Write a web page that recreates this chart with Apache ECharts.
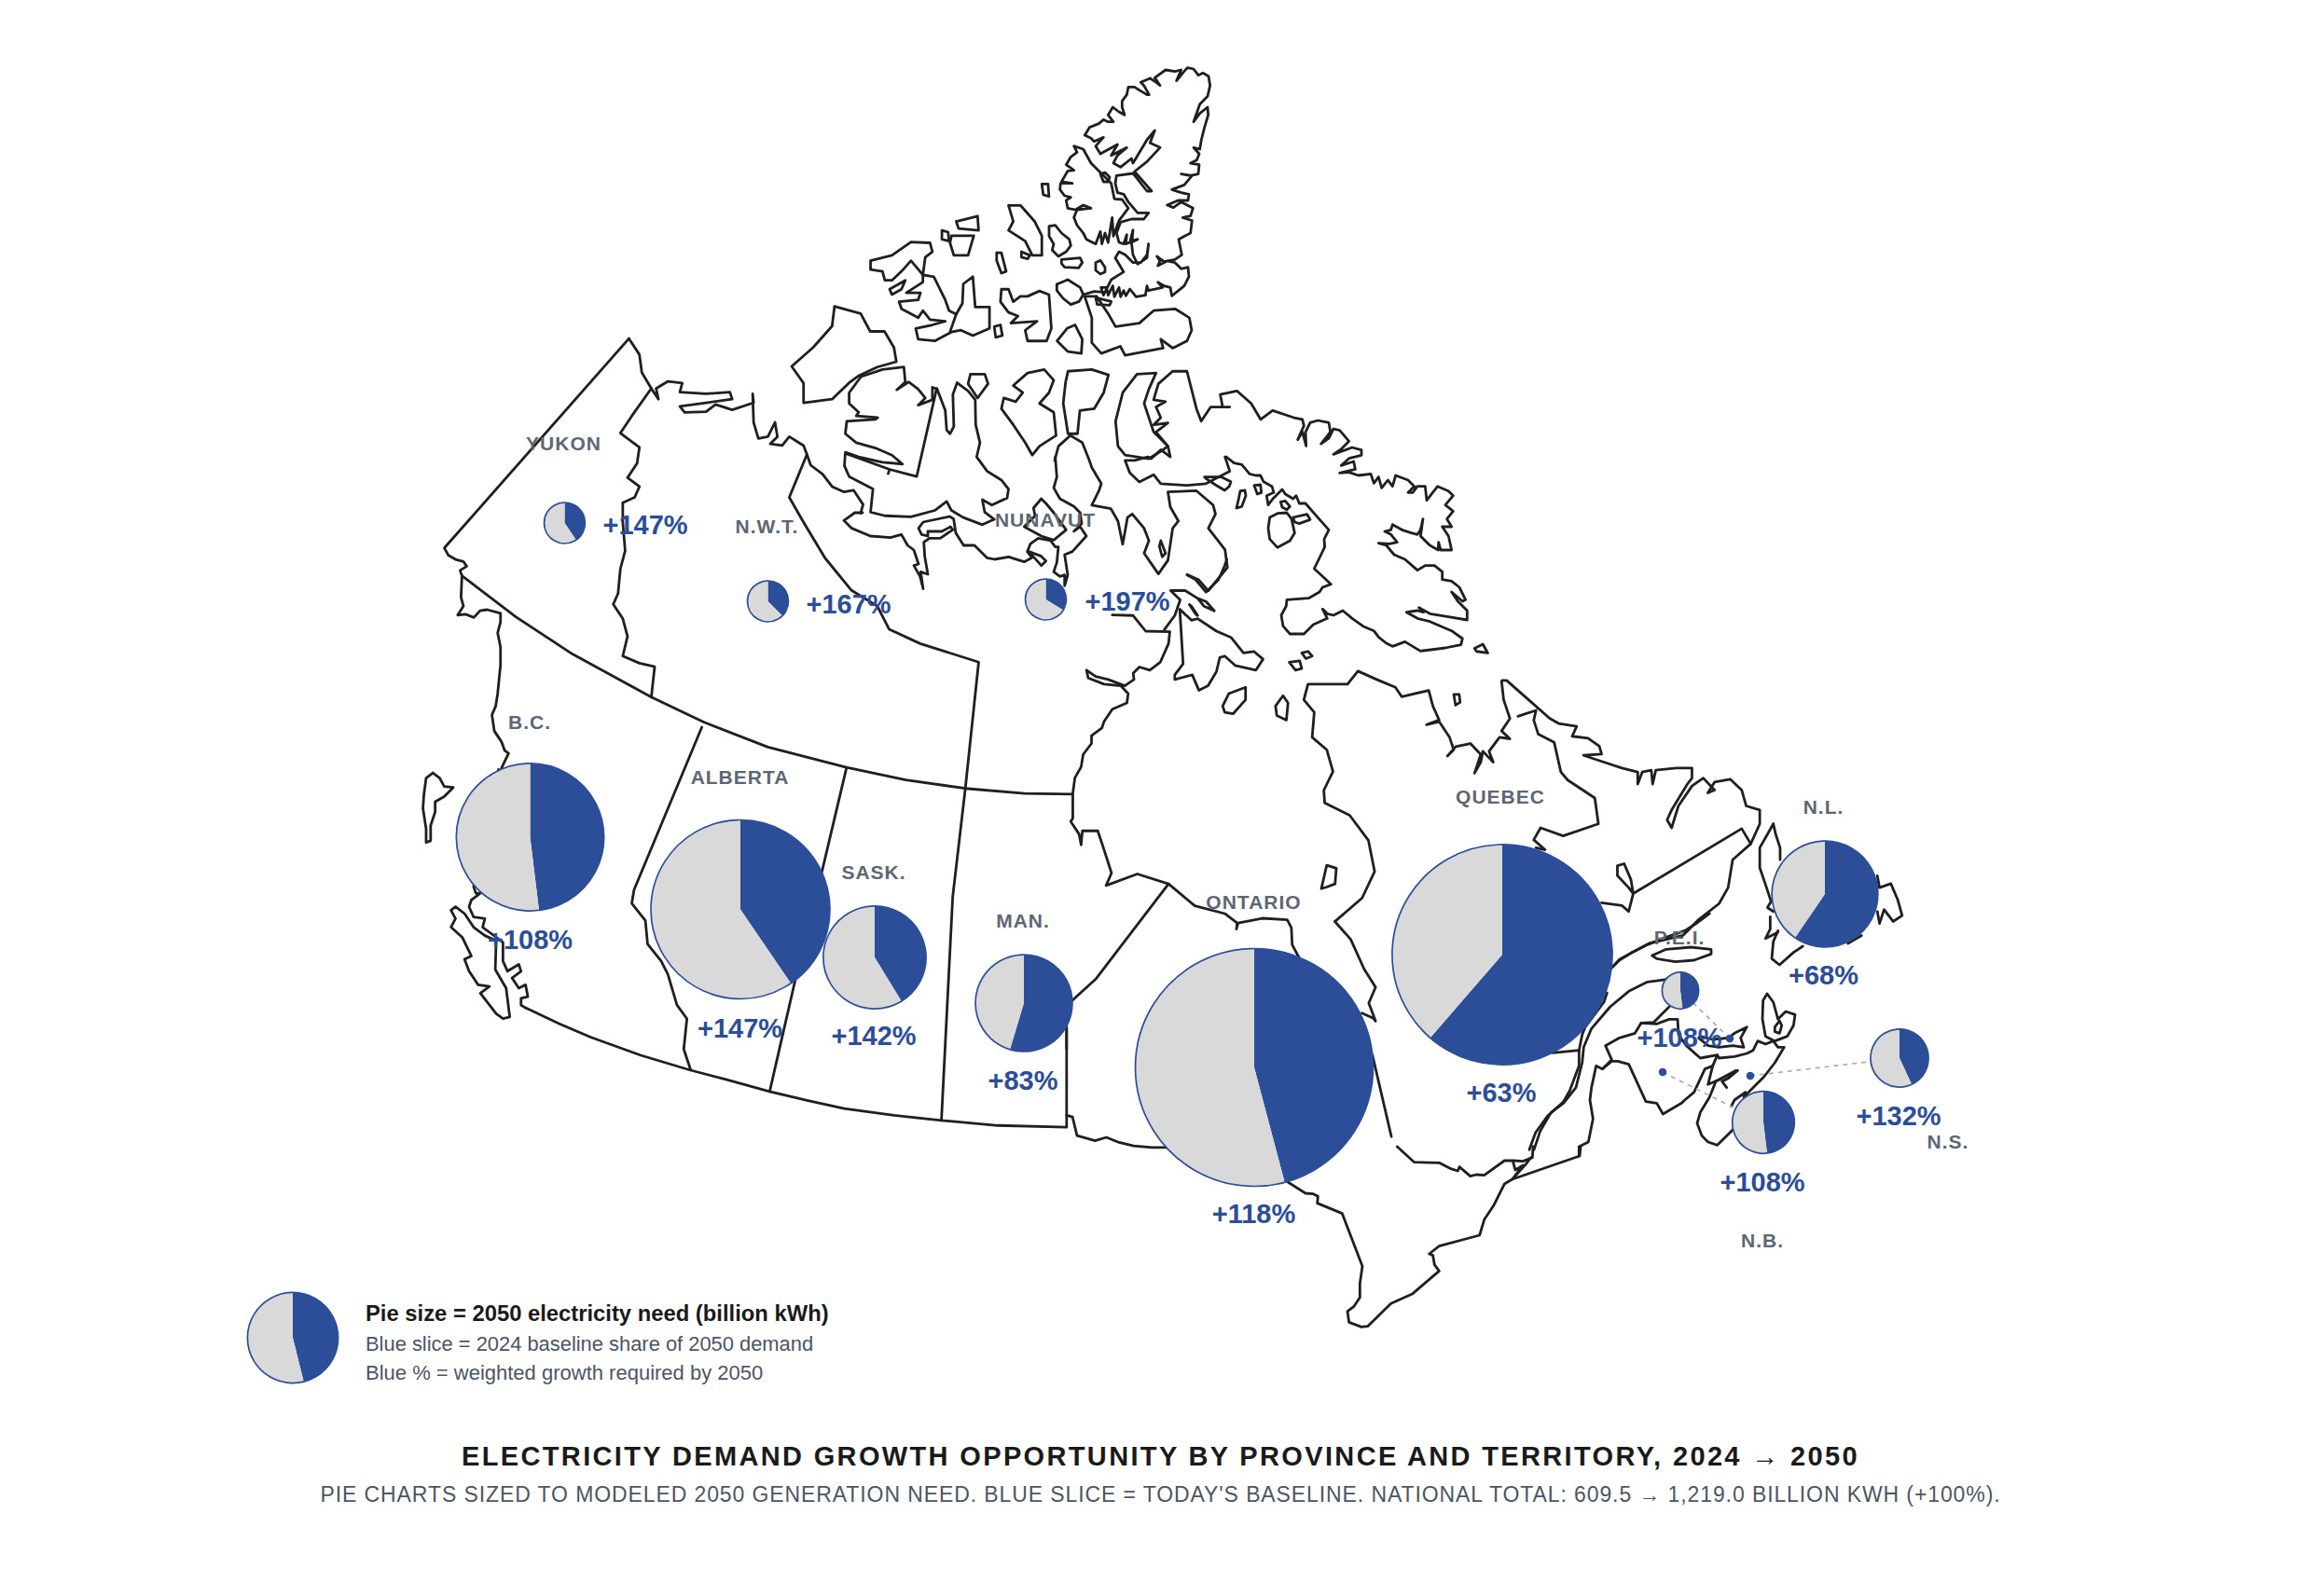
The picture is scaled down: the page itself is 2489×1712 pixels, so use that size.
<!DOCTYPE html>
<html><head><meta charset="utf-8">
<style>html,body{margin:0;background:#fff}#c{width:2489px;height:1712px}</style>
<script src="https://cdn.jsdelivr.net/npm/echarts@6/dist/echarts.min.js"></script>
</head><body><div id="c"></div>
<script>
// ---------- data ----------
const provinces   = ['YUKON','N.W.T.','NUNAVUT','B.C.','ALBERTA','SASK.','MAN.','ONTARIO','QUEBEC','N.L.','P.E.I.','N.B.','N.S.'];
const need2050    = [10,10,10,130,191,63,56,337,289,67,8,23,20];
const base2024    = [4.05,3.75,3.37,62.5,77.3,26,30.6,154.6,177.3,39.9,3.85,11.06,8.62];
const growthLabel = ['+147%','+167%','+197%','+108%','+147%','+142%','+83%','+118%','+63%','+68%','+108%','+108%','+132%'];
const pieCenter   = [[605.5,561],[823.5,645],[1121.5,643],[568.5,898],[794,975.5],[938,1027],[1098,1076],[1345,1145],[1611,1024],[1957,959],[1802,1062.5],[1891,1204],[2037,1135]];
const nameAt      = [[604.5,475],[822.5,564],[1121,557.5],[568,774.5],[793.5,833.5],[937,935],[1097,987],[1344.5,967],[1609,854.5],[1955.5,865.5],[1801,1005.5],[1890,1330],[2089,1224.5]];
const growthAt    = [[692,562.5],[910,647.5],[1209,644.5],[568.5,1008],[793.5,1103],[937,1111],[1097,1159],[1344.5,1301.5],[1610,1172],[1955.5,1046],[1801,1113],[1890,1268],[2036,1196.5]];
const leaderDots  = {'P.E.I.':[1855,1114],'N.B.':[1783,1150],'N.S.':[1877,1154]};
const legendNeed = 49, legendBase = 22.6, legendCenter = [314,1435];
const legendLines = ['Pie size = 2050 electricity need (billion kWh)','Blue slice = 2024 baseline share of 2050 demand','Blue % = weighted growth required by 2050'];
const titleText = 'ELECTRICITY DEMAND GROWTH OPPORTUNITY BY PROVINCE AND TERRITORY, 2024 \u2192 2050';
const subText = "PIE CHARTS SIZED TO MODELED 2050 GENERATION NEED. BLUE SLICE = TODAY'S BASELINE. NATIONAL TOTAL: 609.5 \u2192 1,219.0 BILLION KWH (+100%).";

// basemap tracing: each zone is a traced tile [left, top, scaleX, scaleY]
const zones = {a:[400,300,1.96,2.613],b:[880,50,1.96,2.613],c:[1050,600,2.24,2.987],d:[1400,700,2.063,2.34],e:[440,780,2.063,2.75],f:[1400,1230,3,3],g:[1640,980,3,3],h:[900,490,3,3],i:[1120,60,3,3],j:[1290,450,3,3]};
const openLines = [
['a',[538,165,150,752,158,772,175,785,190,790,197,803,183,815,187,830,185,890,190,915,178,940,195,938,212,947,225,928,240,925,268,935,268,960,262,990,268,1030,268,1080,262,1160,258,1195,250,1220,255,1265,270,1295,277,1320,285,1328,275,1355,265,1385]],
['e',[195,125,140,470,145,490,155,490,135,510,130,530,140,560,165,565,160,590,175,605,205,635,205,690,215,720,240,700,245,720,225,740,240,770,255,760,260,795,245,800,245,820,255,828]],
['e',[255,828,330,875,400,915,510,968,620,1012,700,1040,795,1075,880,1102,960,1125,1070,1145,1175,1160,1300,1175,1452,1180,1452,890]],
['c',[210,1568,210,1430,280,1345,455,1040]],
['a',[187,830,300,945,420,1050,585,1170,695,1240,830,1310,995,1367,1120,1402,1245,1426,1370,1440,1470,1442]],
['a',[585,305,545,380,520,430,560,470,555,515,535,555,560,580,550,610,525,625,525,680,530,760,520,810,515,880,505,910,525,950,535,1000,525,1055,560,1075,592,1085,585,1170]],
['a',[912,490,875,610,905,680,950,780,1005,870,1060,915,1085,980,1150,1020,1273,1072,1245,1426]],
['e',[1228,180,1200,500,1175,1160]],
['e',[965,120,910,430,850,755,795,1075]],
['e',[645,0,495,480,490,520,520,570,525,640,555,690,570,730,590,820,612,860,605,950,620,1010]],
['e',[1452,1145,1465,1150,1475,1205,1515,1220,1540,1210,1568,1225,1600,1235,1640,1240,1691,1240]],
['a',[538,165,560,210,565,260,585,305,600,335,595,305,620,285,650,290,645,315,700,320,750,315,755,335,700,345,645,355,655,372,700,370,720,350,755,365,800,345,798,320,800,400,810,445,830,440,845,400,850,440,835,460,860,465,875,440,905,465,912,490,920,520,945,545,965,580,990,595,1010,590,1030,630,1025,655]],
['h',[75,180,50,180,15,205,40,230,100,255,165,260,200,250,220,285,240,300,255,345,240,350,260,385,270,425,262,370,285,378,275,320,272,275,290,262,325,262,365,235,358,225,330,240,285,240,285,255,265,250,255,230,270,210,355,192,368,200,375,245,400,285,435,285,475,325,500,330,545,322,595,338,620,325,605,305,615,280,640,262,680,270,695,290,705,290,700,340,690,370,710,385,725,380,725,415,735,380,725,315,750,305,795,255,775,225,755,240,780,215,775,180,755,160,710,135,690,100,700,65,695,0]],
['b',[492,1160,500,1120,525,1090,550,1110,565,1160,570,1180,590,1225,585,1245,570,1285,610,1295,625,1330,635,1395,645,1320,655,1310,680,1350,690,1385,680,1420,710,1478,730,1440,740,1350,752,1330,735,1290,730,1248,790,1245,825,1285,830,1310,815,1350,850,1410,855,1460,815,1525,795,1495,770,1480]],
['c',[320,178,370,180,400,230,458,232,455,270,435,330,410,355,385,345,370,365,372,385,350,405,310,385,280,375,258,355,262,380,300,400,340,405,358,430,355,460,320,480,300,520,295,540,270,565,270,590,250,625,245,665,230,700,225,750,225,830,220,840,240,880,245,915,248,870,285,870,300,930,318,1005,305,1045,380,1008,455,1040,518,1110,590,1135,620,1165,618,1185,622,1165,680,1150,740,1155,750,1180,752,1235,770,1280]],
['c',[445,225,470,180,483,130,460,100,495,100,525,125,540,150,565,165,545,135,525,125]],
['c',[855,1160,920,1085,950,1000,935,900,890,820,830,780,828,740,850,680,835,610,800,570,805,490,780,450,790,400,855,400,885,400,910,358,955,385,1000,410,1015,440,1080,420,1090,470,1105,515,1075,530,1105,520,1130,570,1140,610,1125,630,1145,600,1180,590,1205,625,1190,685,1205,650,1210,615,1235,650,1225,615,1250,570,1275,575,1255,550,1275,510,1260,450,1255,390]],
['d',[125,905,150,918,155,925,140,880,155,840,130,795,100,720,65,675]],
['d',[435,70,445,70,470,95,500,125,540,165,560,178,600,185,590,210,625,215,650,235,655,255,615,258,660,275,700,290,735,300,735,330,745,300,765,295,768,330,775,295,820,290,855,290,855,315,845,330,810,395,800,420,810,440,825,385,855,335,880,315,905,345,890,352,905,325,940,318,965,345,975,385,1005,395,1005,430,985,480,945,520,935,590,915,630,870,670,835,710,760,730,695,770,678,790]],
['d',[470,160,510,145,505,170,515,205,550,225,565,300,580,320,640,365,648,430,570,460,520,440,505,470,530,495,510,490]],
['d',[985,480,965,442,725,605,715,590,690,560,690,535,705,530,720,570,725,605,715,650,700,635,655,628]],
['d',[148,1010,190,1215]],
['f',[-66,108,0,150,25,152,40,160,38,182,118,215,183,385,175,440,175,485,155,515,135,530,140,565,180,580,200,578,275,505,345,473,430,400,415,380,410,350,398,345,430,320,560,285,575,235,605,190,640,120,665,105,882,30,885,0]],
['f',[295,0,350,50,430,52,465,70,490,78,495,65,530,95,550,90,575,92,640,45,670,45,700,47,730,35,732,0]],
['f',[668,50,675,75,700,60,665,105,710,55,725,35]],
['g',[265,175,290,150,330,125,380,100,430,80,500,55,540,30,580,0]],
['g',[75,448,160,440,160,490,130,570,110,605,60,650,20,705,0,760]],
['g',[250,255,240,285,180,365,170,390,160,440]],
['g',[440,212,380,220,320,250,260,300,200,370,175,430,170,480,150,560,110,610,70,640,35,700,15,760]],
['g',[160,780,160,750,190,735,205,660,195,600,200,560,215,490,235,500,265,475,285,475,320,485,375,605,410,610,430,645,490,610,500,600,530,575,565,500,590,490,575,550,610,535,670,505,640,530,620,540,635,560]],
['g',[235,500,265,470,245,425,290,400,340,385,360,352,410,355,450,340,477,340,480,390,505,425,550,465,605,455,590,490]],
['g',[360,352,400,350,450,300]],
['g',[605,455,610,465,660,460,700,450,720,440,735,410,760,420,785,410,800,430,820,430,790,480,755,525,690,590,695,575,660,600,650,620]],
['g',[665,505,600,540,580,590,550,640,540,675,555,715,575,735,605,745,640,710,660,690]],
['g',[800,55,785,90,780,145,805,165,850,125,880,105]],
['g',[775,10,775,50,760,80,800,60]],
['d',[1035,430,1040,455,1050,490,1050,520]],
['d',[1035,430,1005,490,1005,540,1020,590,1030,625,1022,640,1035,650]],
['d',[1265,560,1270,590,1295,580,1310,620,1320,660,1300,675,1280,645,1270,680,1265,650]],
['d',[1200,730,1230,710]],
['b',[244,958,202,1205,145,1185,142,1197,145,1185,54,1141]],
['b',[1012,1045,995,1040,950,1020,925,1045,905,1000,875,965,840,975,845,1010,860,1010,820,1010,800,1050,790,1015,770,910,740,910,710,945,700,990,725,995,705,1010,715,1040,700,1060,730,1055,705,1080,730,1120,735,1150,715,1130,695,1155,688,1150,660,1160,640,1160,650,1195,670,1220,700,1200,715,1225,770,1230,810,1225,860,1190,850,1150]],
['j',[75,120,100,140,125,145,150,175,170,180,185,180,195,200,222,215,228,235,205,245,210,275,225,255,240,240,255,225,265,240,290,255,300,245,310,270,330,270,365,310,405,355,390,385,392,410,380,435,358,480,380,500,412,530,385,540,375,555,340,575,270,580,268,600,252,630,258,665,280,690,325,690,355,660,400,640,385,610,400,625,420,630,450,615,480,640,515,665,550,680,565,700,590,720,610,730,650,715,700,745,780,735,830,725,835,705,800,680,730,650,690,640,655,620,690,615,710,620,695,605,730,625,790,635,850,645,850,615,820,585,800,555,835,585,845,580,825,540,800,520,770,515,770,490,745,470,715,470,690,485,650,450,615,435,590,405,565,398,600,400,625,395,605,370,585,360,605,355,610,338,640,355,670,365,690,370,700,355,708,320,700,375,730,405,757,420,758,395,765,420,800,420,790,375,770,345,800,345,785,320,805,295,780,275,805,245,790,230,755,215,720,260,715,215,690,215,675,235,660,235,680,215,660,195,620,180,610,215,595,195,575,220,565,185,550,205,540,175,500,180,470,170,440,172,490,160,485,135,445,148,470,125,510,115,510,98,480,90,420,112,445,95,470,70,440,35,420,30,405,60,380,78,410,40,405,10,370,3,345,10,330,40,332,85,320,40,305,65,325,20,320,0]],
['c',[500,50,520,65,545,105,575,65,590,20,595,0]],
['b',[272,800,285,750]],
['i',[125,768,160,758,190,760]]
];
const closedRings = [
['a',[970,75,1025,95,1045,145,1075,145,1095,190,1100,230,1060,245,1020,270,1000,290,965,335,905,345,905,290,880,243,925,190,965,130]],
['b',[175,898,178,940,160,962,185,940,205,960,220,985,205,1005,235,990,235,955,245,960,262,1020,265,1075,272,1085,280,1065,278,975,287,942,310,965,325,990,326,1060,335,1110,328,1150,350,1190,380,1215,395,1240,392,1265,360,1285,340,1270,345,1305,365,1325,340,1340,300,1320,275,1300,265,1275,240,1300,190,1318,135,1315,105,1305,110,1240,60,1205,50,1175,52,1137,80,1150,130,1165,172,1170,150,1145,115,1125,75,1110,52,1085,55,1050,115,1045,120,1040,75,1035,80,1025,60,1000,60,970,85,925,130,905]],
['b',[315,918,345,918,352,945,330,985,310,945]],
['b',[435,915,470,905,490,935,480,970,460,1000,490,1025,495,1090,460,1120,445,1145,430,1110,405,1060,380,1015,385,985,410,995,425,970,405,950]],
['b',[520,910,570,905,605,920,595,970,575,1015,545,1020,540,1085,520,1085,510,1000,515,940]],
['b',[665,918,705,915,690,960,680,1000,700,1080,730,1120,720,1130,690,1155,640,1145,625,1120,620,1050,635,970]],
['b',[580,700,605,750,620,785,670,775,700,740,745,735,775,760,780,795,770,825,740,845,715,820,720,845,640,865,630,840,590,860,570,830,570,760,555,700]],
['i',[130,255,145,230,175,218,190,205,205,212,222,212,205,190,220,165,240,180,258,190,250,165,250,145,265,125,270,100,290,100,305,110,330,125,337,125,320,95,310,85,340,72,360,85,372,95,355,70,390,45,420,50,440,45,425,80,445,55,460,38,480,42,495,62,510,55,528,65,533,95,525,130,500,155,480,212,500,185,525,165,527,190,515,230,505,270,500,300,480,295,498,315,490,335,470,345,498,350,495,380,470,385,440,380,475,385,450,415,410,430,440,440,465,445,462,465,430,465,395,480,415,488,440,470,478,490,470,515,445,520,475,530,470,570,432,590,442,640,420,655,385,662,362,645,372,660,365,675,395,660,420,665,440,685,462,680,465,710,450,740,410,772,405,745,385,740,365,728,380,745,335,755,330,740,325,770,295,775,275,750,262,772,255,755,245,775,240,745,225,775,220,740,205,770,200,745,182,745,190,770,215,720,255,695,240,670,228,650,240,630,260,640,285,665,310,665,330,640,335,605,330,650,300,670,285,640,280,600,300,590,282,595,285,560,275,600,262,605,265,575,255,605,240,600,232,570,245,535,280,525,320,525,335,505,300,505,270,470,255,445,235,440,228,410,232,385,285,378,330,435,345,435,290,372,330,340,372,295,340,280,355,240,330,270,285,345,280,330,245,358,222,345,235,320,265,295,215,320,235,285,180,315,165,290,190,262,160,275,150,265]],
['i',[95,290,125,300,150,345,180,375,205,400,215,410,225,460,250,462,270,490,240,530,222,580,218,520,210,570,205,600,195,570,185,605,180,565,165,605,135,590,125,570,105,545,95,520,105,495,150,490,125,480,100,495,75,490,70,465,85,455,65,450,50,430,52,410,90,410,55,405,75,370,95,368,70,350,85,325,105,310]],
['i',[180,380,195,375,210,390,205,405,190,405]],
['i',[15,548,35,545,55,570,80,590,85,610,70,630,45,645,25,625,30,605,15,580]],
['i',[55,655,115,650,122,665,110,682,65,680,55,668]],
['i',[165,665,180,658,195,680,195,695,180,702,165,690]],
['i',[40,735,75,720,115,745,125,768,112,790,85,800,60,780,40,755]],
['i',[165,778,215,790,210,802,170,800]],
['b',[465,385,478,385,480,420,468,415]],
['b',[395,445,420,445,450,490,465,530,465,585,445,585,430,545,395,515,405,490]],
['b',[422,575,440,585,435,595,422,590]],
['b',[370,578,380,578,390,630,380,635,370,600]],
['b',[255,515,268,520,270,545,255,540]],
['b',[285,490,330,475,332,515,290,510]],
['b',[275,530,322,530,310,585,280,585,272,550]],
['b',[105,600,150,585,190,548,230,550,235,575,220,590,215,640,190,600,170,630,150,655,135,655,130,630,105,625]],
['b',[145,680,178,655,170,680,150,695]],
['b',[215,640,238,645,262,710,270,740,285,750,298,720,300,665,320,645,325,730,355,730,355,790,320,810,295,795,275,800,240,825,205,820,200,790,235,780,262,770,230,765,215,740,205,760,170,735,165,715,205,710,210,690,180,690,215,660]],
['b',[380,680,395,680,405,715,420,700,435,700,460,685,480,695,485,790,475,825,435,825,430,795,455,770,400,775,415,755,395,745,378,715]],
['b',[365,785,378,780,382,810,368,815]],
['b',[518,790,535,780,550,820,548,860,520,855,497,825]],
['b',[715,1385,725,1420,718,1430,712,1400]],
['j',[5,185,60,185,90,200,85,215,70,228,40,210,10,190]],
['j',[120,230,135,228,138,245,125,280,108,285,115,255]],
['j',[165,212,185,210,188,235,175,240]],
['j',[215,315,240,302,270,300,285,320,295,365,280,390,240,412,215,385,210,350]],
['j',[290,315,335,305,345,322,310,335,295,330]],
['j',[250,265,265,262,280,280,270,290,255,282]],
['e',[50,135,65,150,75,175,95,178,75,205,55,220,55,250,45,290,45,335,35,340,35,300,28,240,30,200,35,150]],
['e',[90,540,100,530,120,550,140,590,165,615,190,630,188,715,212,770,220,855,205,860,190,845,155,785,175,765,150,760,130,720,120,685,135,675,115,620,90,590,100,565]],
['h',[650,135,665,150,690,180,730,235,690,268,650,255,595,225,630,190,625,165]],
['h',[610,305,650,320,665,335,650,350]],
['c',[482,160,510,195,525,190,570,230,605,250,635,300,660,295,682,320,665,355,615,340,590,310,578,315,570,360,550,405,528,420,512,370,470,385,470,370,490,335]],
['c',[505,145,520,175,525,180,510,150]],
['c',[600,430,640,410,640,450,610,495,590,490,585,470]],
['c',[712,470,730,437,742,460,738,515,715,500]],
['c',[745,330,770,325,775,350,760,355]],
['c',[775,300,790,295,800,310,785,318]],
['c',[822,1055,835,980,858,990,855,1040,835,1050]],
['c',[1190,285,1210,272,1222,300,1195,295]],
['d',[328,105,340,105,342,125,332,132]],
['g',[395,135,440,115,520,108,585,115,585,130,530,150,470,155,410,145]],
['g',[545,400,575,425,610,430,655,425,690,430,680,400,700,365,660,385,640,400,590,405,550,395]],
['g',[765,258,785,285,800,340,825,315,855,325,850,360,830,395,790,410,760,395,750,340,752,280]],
['g',[790,365,805,345,812,360,805,385,790,380]]
];

function toPath(zone, flat, close){
  const z = zones[zone], out = [];
  for (let i=0;i<flat.length;i+=2) out.push([z[0]+flat[i]/z[2], z[1]+flat[i+1]/z[3]]);
  if (close) out.push(out[0]);
  return out;
}
const coastPaths = openLines.map(l=>toPath(l[0],l[1],false)).concat(closedRings.map(l=>toPath(l[0],l[1],true)));

// ---------- styling ----------
const BLUE='#2c4d98', GREY='#d9d9d9', SIZE_K=6.945;
const FONT='"Liberation Sans", Arial, Helvetica, sans-serif';
const ident = p=>[p[0],p[1]];

echarts.registerMap('canada',{type:'FeatureCollection',features:[{type:'Feature',properties:{name:'frame'},geometry:{type:'Polygon',coordinates:[[[0,0],[2489,0],[2489,1712],[0,1712],[0,0]]]}}]});

function pie(center,need,base){
  return {type:'pie',coordinateSystem:'geo',geoIndex:0,center,radius:SIZE_K*Math.sqrt(need),startAngle:90,clockwise:true,
    silent:true,animation:false,z:4,label:{show:false},labelLine:{show:false},
    data:[{value:base,itemStyle:{color:BLUE}},{value:need-base,itemStyle:{color:GREY}}]};
}
const centers = pieCenter.concat([legendCenter]), needs = need2050.concat([legendNeed]);
const series = [
  {type:'lines',coordinateSystem:'geo',polyline:true,silent:true,animation:false,z:2,
   lineStyle:{color:'#1f1f1f',width:2.8,opacity:1,cap:'round',join:'round'},
   data:coastPaths.map(p=>({coords:p}))},
  {type:'lines',coordinateSystem:'geo',silent:true,animation:false,z:3,symbol:'none',
   lineStyle:{color:'#a3a9b5',width:1.6,type:[5,5],opacity:1,curveness:0},
   data:Object.keys(leaderDots).map(k=>({coords:[leaderDots[k],pieCenter[provinces.indexOf(k)]]}))},
  {type:'scatter',coordinateSystem:'geo',silent:true,animation:false,z:3,symbolSize:8.5,itemStyle:{color:BLUE,opacity:1},
   data:Object.values(leaderDots).map(v=>({value:v}))}
];
provinces.forEach((n,i)=>series.push(pie(pieCenter[i],need2050[i],base2024[i])));
series.push(pie(legendCenter,legendNeed,legendBase));
series.push({type:'scatter',coordinateSystem:'geo',silent:true,animation:false,z:5,
  symbolSize:(v,p)=>2*SIZE_K*Math.sqrt(needs[p.dataIndex]),
  itemStyle:{color:'rgba(0,0,0,0)',borderColor:BLUE,borderWidth:1.7,opacity:1},
  data:centers.map(c=>({value:c}))});
const labelSeries=(names,at,style)=>({type:'scatter',coordinateSystem:'geo',silent:true,animation:false,z:7,symbolSize:1,
  itemStyle:{color:'rgba(0,0,0,0)',opacity:1},
  label:Object.assign({show:true,position:'inside',formatter:'{b}',align:'center',verticalAlign:'middle',fontFamily:FONT,fontWeight:'bold',opacity:1},style),
  data:names.map((n,i)=>({name:n,value:at[i]}))});
series.push(labelSeries(provinces,nameAt,{fontSize:21,color:'#5d6675'}));
series.push(labelSeries(growthLabel,growthAt,{fontSize:29,color:BLUE}));

const chart = echarts.init(document.getElementById('c'),null,{renderer:'svg',width:2489,height:1712});
chart.setOption({
  backgroundColor:'#fff',animation:false,tooltip:{show:false},
  geo:{map:'canada',projection:{project:ident,unproject:ident},left:0,top:0,width:2489,height:1712,roam:false,silent:true,z:1,
    label:{show:false},itemStyle:{areaColor:'rgba(0,0,0,0)',borderWidth:0,borderColor:'rgba(0,0,0,0)'}},
  title:[
    {text:titleText,left:'center',top:1562-17,textStyle:{fontFamily:FONT,fontWeight:'bold',fontSize:29,color:'#1a1a1a',lineHeight:34},padding:0},
    {text:subText,left:'center',top:1603-14,textStyle:{fontFamily:FONT,fontWeight:'normal',fontSize:23,color:'#4b5563',lineHeight:28},padding:0},
    {text:legendLines[0],left:392,top:1408-14,textStyle:{fontFamily:FONT,fontWeight:'bold',fontSize:23.8,color:'#1a1a1a',lineHeight:28},padding:0},
    {text:legendLines[1],left:392,top:1441-13,textStyle:{fontFamily:FONT,fontWeight:'normal',fontSize:21.9,color:'#4b5563',lineHeight:26},padding:0},
    {text:legendLines[2],left:392,top:1472-13,textStyle:{fontFamily:FONT,fontWeight:'normal',fontSize:22,color:'#4b5563',lineHeight:26},padding:0}
  ],
  series
});
// the reference's headline, sub-headline and province names are letter-spaced
function spaceText(){
  document.querySelectorAll('#c text').forEach(t=>{
    const s=t.textContent;
    if(s===titleText) t.style.letterSpacing='2.35px';
    else if(s===subText) t.style.letterSpacing='0.9px';
    else if(provinces.includes(s)) t.style.letterSpacing='1px';
  });
}
spaceText(); chart.on('finished',spaceText);
</script></body></html>
